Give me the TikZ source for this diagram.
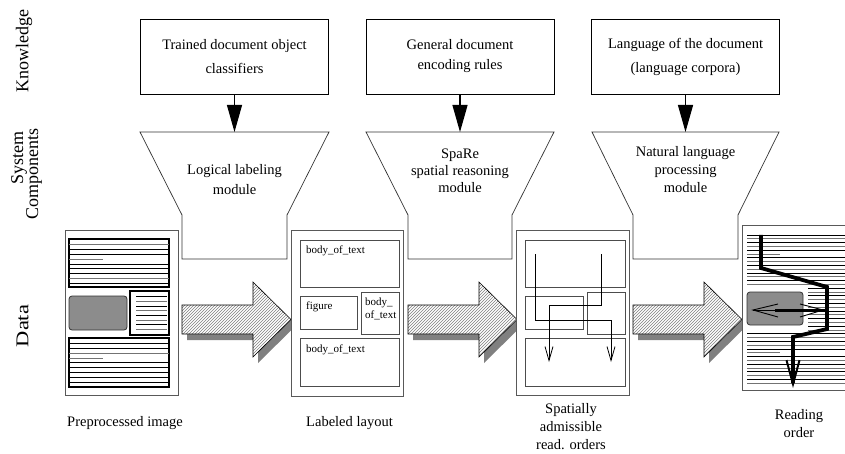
\documentclass[tikz,border=0pt]{standalone}
\usepackage{fontspec}
\setmainfont{Liberation Serif}
\usetikzlibrary{arrows.meta,patterns}
\begin{document}
\begin{tikzpicture}[x=1pt,y=-1pt,
  kbox/.style={draw=black, line width=0.8pt, minimum width=188pt, minimum height=75pt, align=center},
  txt/.style={font=\fontsize{14.5}{18}\selectfont, align=center, inner sep=0pt},
  small/.style={font=\fontsize{11}{13}\selectfont, inner sep=0pt, align=left},
  side/.style={font=\fontsize{18}{16}\selectfont, rotate=90, inner sep=0pt},
  funnel/.style={draw=black!80, line width=0.7pt, fill=white},
  karrow/.style={line width=1.2pt, -{Triangle[length=27pt,width=15pt]}},
  docout/.style={draw=black!65, line width=0.8pt, fill=white},
  inbox/.style={draw=black!70, line width=0.8pt},
  blk/.style={draw=black, line width=1.6pt},
  tl/.style={line width=0.8pt},
  fig/.style={draw=black!80, line width=0.8pt, fill=black!45, rounded corners=3pt},
  route/.style={draw=black, line width=0.8pt, -{Straight Barb[length=14pt,width=8pt]}},
  shadow/.style={fill=black!50},
  hatch/.style={pattern=north east lines, pattern color=black!50}
]
\clip (0,0) rectangle (845,454);
\fill[white] (0,0) rectangle (845,454);

% side labels
\node[side] (lk) at (24,51) {Knowledge};
\node[side] (ls) at (19,158) {System};
\node[side] (lc) at (34,174) {Components};
\node[side] (ld) at (22.5,326) {\scalebox{1.25}[1]{Data}};

% knowledge boxes
\node[kbox, font=\fontsize{14.5}{24}\selectfont] (k1) at (234.5,56.5) {Trained document object\\classifiers};
\node[kbox, font=\fontsize{14.5}{20}\selectfont] (k2) at (460,56.5) {General document\\encoding rules};
\node[kbox, font=\fontsize{14.5}{24}\selectfont] (k3) at (685.5,56.5) {Language of the document\\(language corpora)};

% funnels
\draw[funnel] (140,132) -- (329,132) -- (287,215) -- (287,259) -- (182,259) -- (182,215) -- cycle;
\draw[funnel] (366,132) -- (554,132) -- (512,215) -- (512,259) -- (408,259) -- (408,215) -- cycle;
\draw[funnel] (592,132) -- (779,132) -- (738,215) -- (738,259) -- (633,259) -- (633,215) -- cycle;
\coordinate (f1n) at (234.5,132);
\coordinate (f2n) at (460,132);
\coordinate (f3n) at (685.5,132);
\node[txt, font=\fontsize{14.5}{20}\selectfont] (t1) at (234.5,180) {Logical labeling\\module};
\node[txt, font=\fontsize{14.5}{17}\selectfont] (t2) at (460,171) {SpaRe\\spatial reasoning\\module};
\node[txt, font=\fontsize{14.5}{18}\selectfont] (t3) at (685.5,170) {Natural language\\processing\\module};

\draw[karrow] (k1.south) -- (f1n);
\draw[karrow] (k2.south) -- (f2n);
\draw[karrow] (k3.south) -- (f3n);

% block arrows
\foreach \sx in {182,408,633}{
  \begin{scope}[xshift=\sx]
    \fill[shadow] (5,311) -- (76,311) -- (76,288) -- (114,325.5) -- (76,363) -- (76,340) -- (5,340) -- cycle;
    \fill[white] (0,305) -- (71,305) -- (71,282) -- (109,319.5) -- (71,357) -- (71,334) -- (0,334) -- cycle;
    \fill[hatch] (0,305) -- (71,305) -- (71,282) -- (109,319.5) -- (71,357) -- (71,334) -- (0,334) -- cycle;
    \draw[line width=0.6pt] (0,305) -- (71,305) -- (71,282) -- (109,319.5) -- (71,357) -- (71,334) -- (0,334) -- cycle;
  \end{scope}
}

% ---- doc 1: preprocessed image
\draw[docout] (65,230) rectangle (178,395);
\draw[blk] (69,239) rectangle (169,287);
\foreach \yy in {249,254,264,268.5,273,283} \draw[tl,black] (69,\yy) -- (169,\yy);
\foreach \yy in {244,278} \draw[tl,black!55] (69,\yy) -- (169,\yy);
\draw[tl,black!55] (69,259) -- (103,259);
\draw[fig] (69,296) rectangle (127,330);
\draw[blk] (130,291) rectangle (169,335);
\foreach \yy in {296,306,315,324.5} \draw[tl,black] (136,\yy) -- (167,\yy);
\foreach \yy in {301,310.5,320,329.5} \draw[tl,black!55] (136,\yy) -- (167,\yy);
\draw[blk] (69,338) rectangle (169,387);
\foreach \yy in {343,348,362,367,372,377,382} \draw[tl,black] (69,\yy) -- (169,\yy);
\foreach \yy in {353} \draw[tl,black!55] (69,\yy) -- (169,\yy);
\draw[tl,black!55] (69,358) -- (103,358);
\node[txt, font=\fontsize{14.5}{18}\selectfont] (c1) at (125,423) {Preprocessed image};

% ---- doc 2: labeled layout
\draw[docout] (291,230) rectangle (403,396);
\draw[inbox] (300,240) rectangle (399,287);
\draw[inbox] (300,296) rectangle (357,329);
\draw[inbox] (361,292) rectangle (399,334);
\draw[inbox] (300,338) rectangle (399,386);
\node[small, anchor=west] (b1) at (306,251) {body\_of\_text};
\node[small, anchor=west] (b2) at (306,307) {figure};
\node[small, anchor=west] (b3) at (365,308.5) {body\_\\of\_text};
\node[small, anchor=west] (b4) at (306,350) {body\_of\_text};
\node[txt, font=\fontsize{14.5}{18}\selectfont] (c2) at (349.5,423) {Labeled layout};

% ---- doc 3: spatially admissible reading orders
\draw[docout] (516,230) rectangle (629,395);
\draw[inbox] (525,240) rectangle (625,287);
\draw[inbox] (525,296) rectangle (583,329);
\draw[inbox] (587,292) rectangle (625,334);
\draw[inbox] (525,338) rectangle (625,386);
\coordinate (ra0) at (535,254);
\coordinate (ra1) at (535,320);
\coordinate (ra2) at (611,320);
\coordinate (ra3) at (611,362);
\coordinate (rb0) at (601,254);
\coordinate (rb1) at (601,305);
\coordinate (rb2) at (549,305);
\coordinate (rb3) at (549,362);
\draw[route] (ra0) -- (ra1) -- (ra2) -- (ra3);
\draw[route] (rb0) -- (rb1) -- (rb2) -- (rb3);
\node[txt, font=\fontsize{14.5}{18}\selectfont] (c3) at (571,427) {Spatially\\admissible\\read. orders};

% ---- doc 4: reading order
\draw[docout] (742,225) rectangle (870,390);
\foreach \k in {0,...,39}{
  \pgfmathsetmacro{\yy}{235+3.8*\k}
  \pgfmathsetmacro{\xs}{(\yy>288 && \yy<331) ? 808 : 747}
  \pgfmathsetmacro{\xe}{(\k==5 || \k==31) ? 780 : 850}
  \pgfmathtruncatemacro{\pp}{mod(\k,2)}
  \ifnum\pp=0
    \draw[tl,black] (\xs,\yy) -- (\xe,\yy);
  \else
    \draw[tl,black!55] (\xs,\yy) -- (\xe,\yy);
  \fi
}
\draw[fig] (747,292) rectangle (803,325);
\coordinate (p0) at (761,235);
\coordinate (p1) at (761,268);
\coordinate (p2) at (827,287);
\coordinate (p3) at (827,329);
\coordinate (p4) at (793,337);
\coordinate (p5) at (793,388);
\draw[line width=3.8pt, line join=miter, -{Straight Barb[length=24pt,width=13pt,line width=2pt]}] (p0) -- (p1) -- (p2) -- (p3) -- (p4) -- (p5);
\coordinate (h0) at (753,310);
\coordinate (h1) at (775,310);
\coordinate (h2) at (827,310);
\draw[line width=0.9pt] (778,304) -- (h0) -- (778,317);
\draw[line width=0.9pt] (h0) -- (h1);
\draw[line width=3pt] (h1) -- (h2);
\draw[line width=0.9pt] (800,304) -- (823,310) -- (800,317);
\node[txt, font=\fontsize{14.5}{18}\selectfont] (c4) at (799,424) {Reading\\order};
\end{tikzpicture}
\end{document}
